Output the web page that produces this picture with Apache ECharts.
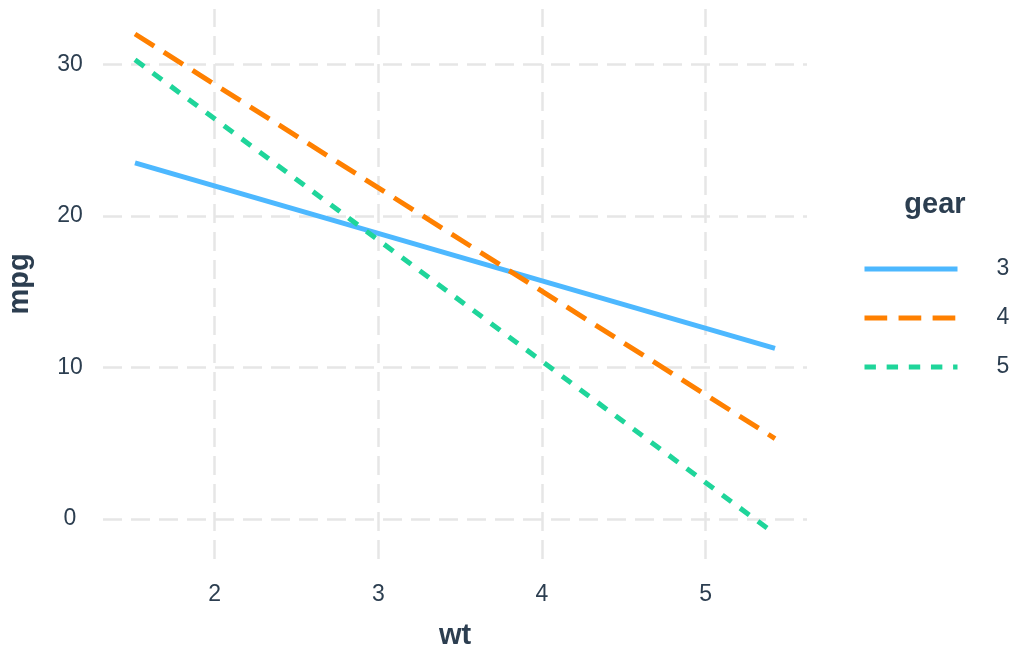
<!DOCTYPE html>
<html>
<head>
<meta charset="utf-8">
<script src="https://cdn.jsdelivr.net/npm/echarts@6/dist/echarts.min.js"></script>
<style>
html,body{margin:0;padding:0;background:#ffffff;}
#chart{width:1010px;height:649px;}
</style>
</head>
<body>
<div id="chart"></div>
<script>
// ---- data ----
const gearNames = ['3', '4', '5'];
const wtRange = [1.513, 5.424];        // x extent of the fitted lines
const gear3 = [23.5, 11.25];           // mpg at wtRange[0], wtRange[1]
const gear4 = [32.0, 5.3];
const gear5 = [30.3, -1.0];
const xTicks = [2, 3, 4, 5];
const yTicks = [0, 10, 20, 30];

// ---- styling ----
const colors = ['#4DB8FF', '#FF8000', '#1FD59A'];
const dashes = ['solid', [22.7, 11.35], [11.4, 10.75]];
const FONT = '"Liberation Sans", Arial, sans-serif';
const TXT = '#2C3E50';

const allY = gear3.concat(gear4, gear5);
const xSpan = wtRange[1] - wtRange[0];
const yMinD = Math.min.apply(null, allY), yMaxD = Math.max.apply(null, allY);
const ySpan = yMaxD - yMinD;
const xMin = wtRange[0] - 0.05 * xSpan, xMax = wtRange[1] + 0.05 * xSpan;
const yMin = yMinD - 0.05 * ySpan, yMax = yMaxD + 0.05 * ySpan;

function tickFmt(list) {
  return function (v) {
    for (const t of list) { if (Math.abs(v - t) < 1e-6) return String(t); }
    return '';
  };
}

const gearVals = [gear3, gear4, gear5];
const series = gearNames.map(function (g, i) {
  const s = {
    name: g,
    type: 'line',
    symbol: 'none',
    silent: true,
    z: 3,
    data: [[wtRange[0], gearVals[i][0]], [wtRange[1], gearVals[i][1]]],
    lineStyle: { color: colors[i], width: 5, type: dashes[i], cap: 'butt' },
    itemStyle: { color: colors[i] }
  };
  if (i === 0) {
    s.markLine = {
      silent: true,
      z: 1,
      animation: false,
      symbol: ['none', 'none'],
      label: { show: false },
      emphasis: { disabled: true },
      lineStyle: { color: '#E6E6E6', width: 2.5, type: [19, 9] },
      data: xTicks.map(function (v) { return { xAxis: v }; })
        .concat(yTicks.map(function (v) { return { yAxis: v }; }))
    };
  }
  return s;
});

const chart = echarts.init(document.getElementById('chart'), null, { renderer: 'canvas' });
chart.setOption({
  animation: false,
  backgroundColor: '#ffffff',
  textStyle: { fontFamily: FONT },
  grid: { left: 103, top: 9, width: 704, height: 550, containLabel: false, outerBoundsMode: 'none' },
  xAxis: {
    type: 'value',
    min: xMin,
    max: xMax,
    name: 'wt',
    nameLocation: 'middle',
    nameGap: 62,
    nameTextStyle: { fontSize: 29, fontWeight: 'bold', color: TXT, fontFamily: FONT },
    axisLine: { show: false },
    axisTick: { show: false },
    splitLine: { show: false },
    axisLabel: { fontSize: 23, color: TXT, fontFamily: FONT, margin: 24, formatter: tickFmt(xTicks), showMinLabel: true, showMaxLabel: true }
  },
  yAxis: {
    type: 'value',
    min: yMin,
    max: yMax,
    name: 'mpg',
    nameLocation: 'middle',
    nameGap: 69,
    nameTextStyle: { fontSize: 29, fontWeight: 'bold', color: TXT, fontFamily: FONT },
    axisLine: { show: false },
    axisTick: { show: false },
    splitLine: { show: false },
    axisLabel: { fontSize: 23, color: TXT, fontFamily: FONT, margin: 33, align: 'center', formatter: tickFmt(yTicks) }
  },
  legend: {
    orient: 'vertical',
    left: 862,
    top: 257,
    itemWidth: 93,
    itemHeight: 24,
    itemGap: 25,
    padding: 0,
    selectedMode: false,
    data: gearNames,
    lineStyle: { width: 5 },
    itemStyle: { opacity: 0, borderWidth: 0 },
    textStyle: { fontSize: 23, color: TXT, fontFamily: FONT, lineHeight: 24, padding: [0, 0, 0, 34] }
  },
  graphic: [{
    type: 'text',
    x: 935,
    y: 205,
    silent: true,
    style: {
      text: 'gear',
      fontSize: 29,
      fontWeight: 'bold',
      fontFamily: FONT,
      fill: TXT,
      align: 'center',
      verticalAlign: 'middle'
    }
  }],
  series: series
});
</script>
</body>
</html>
